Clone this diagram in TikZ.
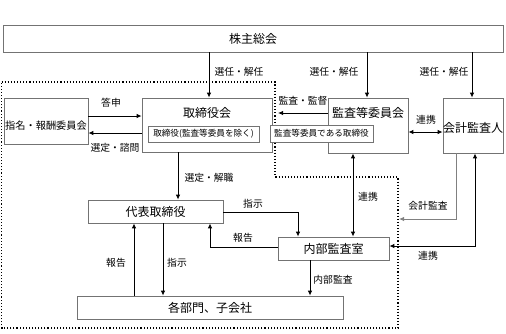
\documentclass[tikz,border=0pt]{standalone}
\usepackage{fontspec}
\setmainfont{Noto Sans CJK JP}
\usetikzlibrary{arrows.meta}
\tikzset{
  box/.style={draw=black!55, line width=0.8pt, fill=white, inner sep=0pt},
  ttl/.style={font=\fontsize{12}{13}\selectfont, inner sep=0pt},
  lab/.style={font=\fontsize{9.8}{11}\selectfont, inner sep=0pt},
  sml/.style={font=\fontsize{8.6}{9}\selectfont, inner sep=0pt},
  arr/.style={draw=black, line width=0.9pt, -{Latex[length=5pt,width=4.5pt]}},
  darr/.style={draw=black, line width=0.9pt, {Latex[length=5pt,width=4.5pt]}-{Latex[length=5pt,width=4.5pt]}},
  garr/.style={draw=black!50, line width=0.9pt, -{Latex[length=5pt,width=4.5pt]}},
  bound/.style={draw=black, line width=1.1pt, dotted}
}
\begin{document}
\begin{tikzpicture}[x=1pt,y=-1pt]
\useasboundingbox (0,0) rectangle (506,333);
% dotted boundary
\draw[bound] (1.5,82) -- (275,82) -- (275,177) -- (398,177) -- (398,328) -- (1.5,328) -- cycle;
% boxes
\node[box, minimum width=500pt, minimum height=27pt] (sh) at (253,38.5) {};
\node[ttl] at (253,38.5) {株主総会};
\node[box, minimum width=84pt, minimum height=46pt] (nomi) at (46,121) {};
\node[lab, font=\fontsize{10.2}{11}\selectfont] at (46,126) {指名・報酬委員会};
\node[box, minimum width=130pt, minimum height=54pt] (tb) at (207,125) {};
\node[ttl] at (207,113) {取締役会};
\node[box, minimum width=111pt, minimum height=16pt] (tbin) at (203.5,134) {};
\node[sml] at (203.5,134) {取締役(監査等委員を除く)};
\node[box, minimum width=80pt, minimum height=55pt] (kansa) at (368,125.5) {};
\node[ttl] at (368,113) {監査等委員会};
\node[box, minimum width=103pt, minimum height=17pt] (kansain) at (321.5,133.5) {};
\node[sml] at (321.5,133.5) {監査等委員である取締役};
\node[box, minimum width=60pt, minimum height=55pt] (kaikei) at (473,125.5) {};
\node[ttl] at (473,128) {会計監査人};
\node[box, minimum width=135pt, minimum height=23pt] (daihyo) at (155.5,211.5) {};
\node[ttl] at (155.5,211.5) {代表取締役};
\node[box, minimum width=111pt, minimum height=23pt] (naibu) at (333.5,248.5) {};
\node[ttl] at (333.5,248.5) {内部監査室};
\node[box, minimum width=266pt, minimum height=23pt] (kaku) at (210,307.5) {};
\node[ttl] at (210,307.5) {各部門、子会社};
% coordinates
\coordinate (ks) at (278,113);
\coordinate (ka) at (399,219);
% arrows from shareholders
\draw[arr] (sh.south -| 209,0) -- (tb.north -| 209,0);
\node[lab] at (239,72) {選任・解任};
\draw[arr] (sh.south -| 367,0) -- (kansa.north -| 367,0);
\node[lab] at (334,72) {選任・解任};
\draw[arr] (sh.south -| 472,0) -- (kaikei.north -| 472,0);
\node[lab] at (444,72) {選任・解任};
% nomination committee
\draw[arr] (nomi.east |- 0,116) -- (tb.west |- 0,116);
\node[lab] at (111,103) {答申};
\draw[arr] (tb.west |- 0,133) -- (nomi.east |- 0,133);
\node[lab] at (115,148) {選定・諮問};
% audit committee
\draw[arr] (kansa.west |- 0,113) -- (ks);
\node[lab] at (303,101) {監査・監督};
\draw[darr] (kansa.east |- 0,132) -- (kaikei.west |- 0,132);
\node[lab] at (426,120) {連携};
% board -> representative
\draw[arr] (tb.south -| 178,0) -- (daihyo.north -| 178,0);
\node[lab] at (209,178) {選定・解職};
% representative <-> internal audit
\draw[arr] (daihyo.east |- 0,212) -- (298,212) -- (naibu.north -| 298,0);
\node[lab] at (253,204) {指示};
\draw[arr] (naibu.west |- 0,247) -- (210,247) -- (daihyo.south -| 210,0);
\node[lab] at (243,238) {報告};
\draw[darr] (kansa.south -| 353,0) -- (naibu.north -| 353,0);
\node[lab] at (368,197) {連携};
% accounting auditor
\draw[garr] (kaikei.south -| 456,0) -- (456,219) -- (ka);
\node[lab] at (428,206) {会計監査};
\draw[darr] (kaikei.south -| 475,0) -- (475,246) -- (naibu.east |- 0,246);
\node[lab] at (428,256) {連携};
% internal audit -> departments
\draw[arr] (naibu.south -| 310,0) -- (kaku.north -| 310,0);
\node[lab] at (333,280) {内部監査};
% representative <-> departments
\draw[arr] (kaku.north -| 134,0) -- (daihyo.south -| 134,0);
\node[lab] at (116,263) {報告};
\draw[arr] (daihyo.south -| 163,0) -- (kaku.north -| 163,0);
\node[lab] at (177,263) {指示};
\end{tikzpicture}
\end{document}
